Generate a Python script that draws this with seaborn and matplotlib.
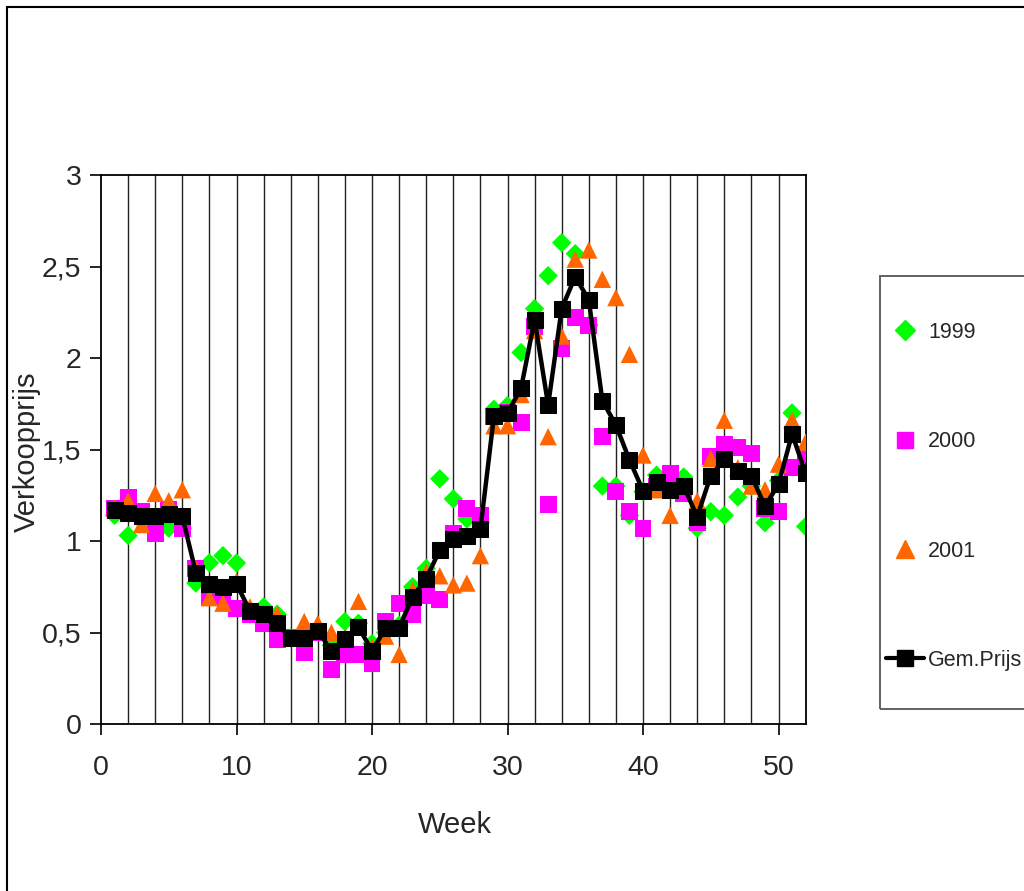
import matplotlib
matplotlib.use("Agg")
import matplotlib.pyplot as plt
import matplotlib.patches as mpatches
from matplotlib.lines import Line2D
import seaborn as sns
import pandas as pd

weeks = list(range(1, 53))

prijs_1999 = [1.14, 1.03, 1.13, 1.12, 1.07, 1.07, 0.77, 0.88, 0.92, 0.88,
              0.60, 0.64, 0.60, 0.47, 0.47, 0.52, 0.43, 0.56, 0.55, 0.44,
              0.50, 0.54, 0.75, 0.85, 1.34, 1.23, 1.12, 1.10, 1.72, 1.74,
              2.03, 2.27, 2.45, 2.63, 2.57, 2.18, 1.30, 1.30, 1.14, 1.27,
              1.36, 1.30, 1.35, 1.07, 1.16, 1.14, 1.24, 1.30, 1.10, 1.33,
              1.70, 1.08]
prijs_2000 = [1.18, 1.24, 1.16, 1.04, 1.17, 1.07, 0.85, 0.69, 0.70, 0.63,
              0.60, 0.55, 0.46, 0.47, 0.39, 0.50, 0.30, 0.38, 0.38, 0.33,
              0.56, 0.66, 0.60, 0.70, 0.68, 1.04, 1.18, 1.14, 1.68, 1.70,
              1.65, 2.17, 1.20, 2.05, 2.22, 2.18, 1.57, 1.27, 1.16, 1.07,
              1.30, 1.37, 1.26, 1.10, 1.46, 1.53, 1.51, 1.48, 1.18, 1.16,
              1.40, 1.475]
prijs_2001 = [1.18, 1.22, 1.09, 1.26, 1.22, 1.28, 0.85, 0.69, 0.66, 0.78,
              0.64, 0.61, 0.60, 0.47, 0.56, 0.55, 0.50, 0.47, 0.67, 0.42,
              0.48, 0.38, 0.73, 0.83, 0.81, 0.76, 0.77, 0.92, 1.63, 1.63,
              1.80, 2.15, 1.57, 2.12, 2.54, 2.59, 2.43, 2.33, 2.02, 1.47,
              1.28, 1.14, 1.30, 1.22, 1.45, 1.66, 1.40, 1.30, 1.28, 1.42,
              1.66, 1.54]
gem_prijs = [1.17, 1.155, 1.135, 1.135, 1.15, 1.135, 0.827, 0.765, 0.75, 0.765,
             0.617, 0.60, 0.55, 0.468, 0.468, 0.51, 0.40, 0.464, 0.53, 0.40,
             0.523, 0.526, 0.696, 0.795, 0.95, 1.01, 1.03, 1.064, 1.683, 1.70,
             1.834, 2.21, 1.743, 2.27, 2.445, 2.317, 1.767, 1.634, 1.443, 1.275,
             1.32, 1.28, 1.30, 1.133, 1.357, 1.446, 1.384, 1.357, 1.19, 1.31,
             1.585, 1.37]

y_ticks = [0, 0.5, 1, 1.5, 2, 2.5, 3]
y_tick_labels = ["0", "0,5", "1", "1,5", "2", "2,5", "3"]
x_ticks = [0, 10, 20, 30, 40, 50]
series_labels = ["1999", "2000", "2001", "Gem.Prijs"]

sns.set_theme(style="white")
plt.rcParams['font.family'] = ['Liberation Sans', 'DejaVu Sans']

df = pd.DataFrame({"Week": weeks, "1999": prijs_1999, "2000": prijs_2000,
                   "2001": prijs_2001, "Gem.Prijs": gem_prijs})

fig = plt.figure(figsize=(10.24, 8.91), dpi=100)
W, H = 1024, 891
ax = fig.add_axes([101 / W, 1 - 724 / H, (805.6 - 101) / W, (724 - 175) / H])

# vertical gridlines every 2 weeks
for g in range(2, 53, 2):
    ax.axvline(g, color="#222222", lw=1.0, zorder=0)

ms = 130
sns.scatterplot(data=df, x="Week", y="1999", ax=ax, marker="D", s=ms * 0.75,
                color="#00FF00", edgecolor="none", zorder=2, legend=False)
sns.scatterplot(data=df, x="Week", y="2000", ax=ax, marker="s", s=ms * 1.15,
                color="#FF00FF", edgecolor="none", zorder=3, legend=False)
sns.scatterplot(data=df, x="Week", y="2001", ax=ax, marker="^", s=ms * 1.2,
                color="#FF6600", edgecolor="none", zorder=4, legend=False)
sns.lineplot(data=df, x="Week", y="Gem.Prijs", ax=ax, color="black", lw=3.2,
             marker="s", markersize=11.5, markeredgecolor="black", zorder=5,
             legend=False)

ax.set_xlim(0, 52)
ax.set_ylim(0, 3)
ax.set_xticks(x_ticks)
ax.set_xticklabels([str(t) for t in x_ticks])
ax.set_yticks(y_ticks)
ax.set_yticklabels(y_tick_labels)
ax.tick_params(axis="both", direction="out", length=8, width=1.2, color="black",
               labelsize=20.5, bottom=True, left=True, pad=6)
ax.tick_params(axis="x", pad=14)
for s in ax.spines.values():
    s.set_visible(True)
    s.set_color("black")
    s.set_linewidth(1.3)

ax.set_xlabel("Week", fontsize=21)
ax.set_ylabel("Verkoopprijs", fontsize=21)
# position the axis labels (axes coordinates)
ax.xaxis.set_label_coords((455 - 101) / (805.6 - 101), -(823 - 724 - 12) / (724 - 175))
ax.yaxis.set_label_coords(-(101 - 29 - 12) / (805.6 - 101), (724 - 452) / (724 - 175))

# legend box (cropped at the right edge)
fig.patches.append(mpatches.Rectangle((880 / W, 1 - 709 / H), 0.3, (709 - 276) / H,
                                      transform=fig.transFigure, fill=False,
                                      edgecolor="#555555", lw=1.3))
handles = [
    Line2D([], [], ls="none", marker="D", color="#00FF00", markersize=10),
    Line2D([], [], ls="none", marker="s", color="#FF00FF", markersize=12),
    Line2D([], [], ls="none", marker="^", color="#FF6600", markersize=13),
    Line2D([], [], color="black", lw=3, marker="s", markersize=11),
]
leg = fig.legend(handles, series_labels, loc="upper left",
                 bbox_to_anchor=(886 / W, 1 - 322 / H),
                 frameon=False, fontsize=15.5, labelspacing=4.1,
                 handlelength=1.75, handletextpad=0.2, borderpad=0,
                 borderaxespad=0)

# outer frame of the chart area (cropped at right and bottom)
fig.patches.append(mpatches.Rectangle((7 / W, -0.05), 1.2, 1 - 7 / H + 0.05,
                                      transform=fig.transFigure, fill=False,
                                      edgecolor="black", lw=1.5))

fig.savefig("out.png", dpi=100)
